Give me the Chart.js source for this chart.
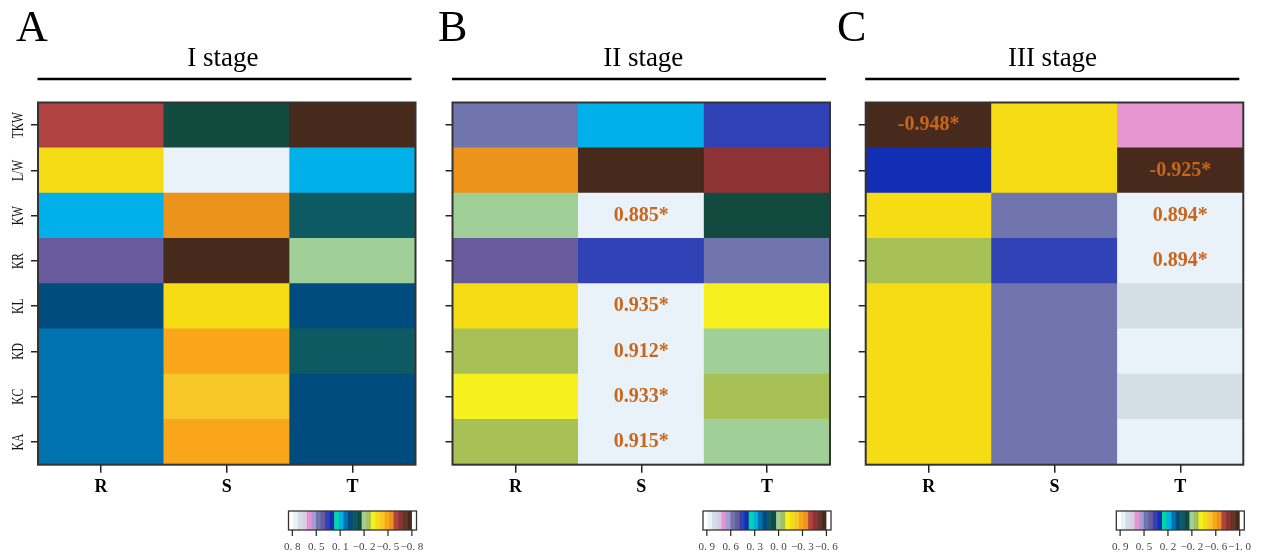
<!DOCTYPE html>
<html>
<head>
<meta charset="utf-8">
<title>Correlation heatmaps by stage</title>
<script src="https://cdn.jsdelivr.net/npm/chart.js@4.4.1/dist/chart.umd.min.js"></script>
<style>
  body { margin:0; background:#fff; width:1261px; height:552px; overflow:hidden; position:relative; }
  canvas { position:absolute; top:0; }
</style>
</head>
<body>
<canvas id="cA" width="440" height="552" style="left:0px"></canvas>
<canvas id="cB" width="420" height="552" style="left:425px"></canvas>
<canvas id="cC" width="431" height="552" style="left:830px"></canvas>
<script>
// rows top -> bottom, columns R / S / T
var traits = ['TKW', 'L/W', 'KW', 'KR', 'KL', 'KD', 'KC', 'KA'];
var parts = ['R', 'S', 'T'];

// I stage
var stage1_R = [-0.59, -0.34, 0.16, 0.40, 0.03, 0.09, 0.09, 0.09];
var stage1_S = [-0.09, 0.78, -0.53, -0.78, -0.34, -0.47, -0.40, -0.47];
var stage1_T = [-0.78, 0.16, -0.03, -0.16, 0.03, -0.03, 0.03, 0.03];
var stage1_sig = [];
var stage1_ticks = ['0.8', '0.5', '0.1', '−0.2', '−0.5', '−0.8'];

// II stage
var stage2_R = [0.61, -0.35, 0.01, 0.55, -0.17, -0.05, -0.11, -0.05];
var stage2_S = [0.31, -0.59, 0.885, 0.49, 0.935, 0.912, 0.933, 0.915];
var stage2_T = [0.49, -0.47, 0.07, 0.61, -0.11, 0.01, -0.05, 0.01];
var stage2_sig = [['KW','S'], ['KL','S'], ['KD','S'], ['KC','S'], ['KA','S']];
var stage2_ticks = ['0.9', '0.6', '0.3', '0.0', '−0.3', '−0.6'];

// III stage
var stage3_R = [-0.948, 0.31, -0.43, -0.28, -0.43, -0.43, -0.43, -0.43];
var stage3_S = [-0.43, -0.43, 0.54, 0.39, 0.54, 0.54, 0.54, 0.54];
var stage3_T = [0.68, -0.925, 0.894, 0.894, 0.83, 0.88, 0.83, 0.88];
var stage3_sig = [['TKW','R'], ['L/W','T'], ['KW','T'], ['KR','T']];
var stage3_ticks = ['0.9', '0.5', '0.2', '−0.2', '−0.6', '−1.0'];

// colour key, high -> low
var palette = ['#ffffff','#e9f1f9','#d3dfe4','#d9cde8','#e595cf','#a89ad6','#7175ae','#675b9e',
  '#3042b5','#122eb5','#00d6a8','#00b0e9','#0072b0','#004c7e','#0d5a62','#124a40',
  '#a0cf98','#a7c157','#f5f01e','#f5dc14','#f7c629','#f9a61a','#eb931a','#b24141',
  '#8e3334','#633728','#472a1c','#ffffff'];

function colorFor(v, hi, w) {
  var k = Math.floor((hi - v) / w);
  if (k < 0) k = 0;
  if (k > palette.length - 1) k = palette.length - 1;
  return palette[k];
}

var decor = {
  id: 'decor',
  afterDraw: function(chart) {
    var o = chart.options.plugins.decor;
    var ctx = chart.ctx, a = chart.chartArea;
    var xs = chart.scales.x, ys = chart.scales.y;
    ctx.save();
    // panel letter
    ctx.fillStyle = '#000';
    ctx.font = '44px "Liberation Serif"';
    ctx.textAlign = 'left'; ctx.textBaseline = 'alphabetic';
    ctx.fillText(o.letter, o.letterX, 41);
    // title + rule
    ctx.font = '27px "Liberation Serif"';
    ctx.textAlign = 'center';
    ctx.fillText(o.title, (a.left + a.right) / 2 + o.titleDx, 66);
    ctx.strokeStyle = '#000'; ctx.lineWidth = 2.5;
    ctx.beginPath(); ctx.moveTo(a.left - 0.5, 79); ctx.lineTo(a.right - 4, 79); ctx.stroke();
    // frame
    ctx.strokeStyle = '#333'; ctx.lineWidth = 2;
    ctx.strokeRect(a.left, a.top, a.right - a.left, a.bottom - a.top);
    // row names (rotated)
    if (o.showNames) {
      ctx.fillStyle = '#111';
      ctx.font = '17px "Liberation Serif"';
      ctx.textAlign = 'center'; ctx.textBaseline = 'middle';
      traits.forEach(function(t, i) {
        var y = ys.getPixelForValue(traits.length - i - 0.5);
        ctx.save();
        ctx.translate(19, y);
        ctx.rotate(-Math.PI / 2);
        ctx.scale(0.68, 1);
        ctx.fillText(t, 0, 0);
        ctx.restore();
      });
    }
    // significant values
    ctx.fillStyle = '#c8661c';
    ctx.font = 'bold 20px "Liberation Serif"';
    ctx.textAlign = 'center'; ctx.textBaseline = 'middle';
    o.sig.forEach(function(s) {
      var r = traits.indexOf(s[0]), c = parts.indexOf(s[1]);
      var v = o.cols[c][r];
      ctx.fillText(v.toFixed(3) + '*', xs.getPixelForValue(c), ys.getPixelForValue(traits.length - r - 0.5));
    });
    // colour key
    var bw = 128, bh = 19, bx = a.right + 1 - bw, by = 511;
    var step = bw / palette.length;
    palette.forEach(function(c, i) {
      ctx.fillStyle = c;
      ctx.fillRect(bx + i * step, by, step + 0.5, bh);
    });
    ctx.strokeStyle = '#333'; ctx.lineWidth = 1.3;
    ctx.strokeRect(bx, by, bw, bh);
    ctx.fillStyle = '#444';
    ctx.font = '11px "Liberation Serif"';
    ctx.textAlign = 'center'; ctx.textBaseline = 'alphabetic';
    o.ticks.forEach(function(t, i) {
      var x = bx + bw * (0.03 + i * 0.1868);
      ctx.strokeStyle = '#222'; ctx.lineWidth = 1.2;
      ctx.beginPath(); ctx.moveTo(x, by + bh); ctx.lineTo(x, by + bh + 6); ctx.stroke();
      ctx.fillText(t.replace('.', '. '), x, 550);
    });
    ctx.restore();
  }
};

function makePanel(id, cols, sig, ticks, hi, w, o) {
  var datasets = [];
  for (var r = traits.length - 1; r >= 0; r--) {
    datasets.push({
      label: traits[r],
      data: parts.map(function() { return 1; }),
      backgroundColor: cols.map(function(col) { return colorFor(col[r], hi, w); }),
      borderWidth: 0,
      barPercentage: 1,
      categoryPercentage: 1
    });
  }
  return new Chart(document.getElementById(id), {
    type: 'bar',
    data: { labels: parts, datasets: datasets },
    plugins: [decor],
    options: {
      responsive: false,
      animation: false,
      layout: { padding: { left: o.padL, right: o.padR, top: 102.5, bottom: 57.3 } },
      plugins: {
        legend: { display: false },
        tooltip: { enabled: false },
        decor: { letter: o.letter, letterX: o.letterX, title: o.title, titleDx: o.titleDx,
                 showNames: o.showNames, sig: sig, cols: cols, ticks: ticks }
      },
      scales: {
        x: {
          stacked: true,
          grid: { offset: false, drawOnChartArea: false, drawTicks: true, tickLength: 8, color: '#222', lineWidth: 1.5 },
          border: { display: false },
          ticks: { color: '#000', padding: 4, font: { family: 'Liberation Serif', size: 18, weight: 'bold' } },
          afterFit: function(s) { s.height = 30; }
        },
        y: {
          stacked: true, min: 0, max: traits.length,
          grid: { drawOnChartArea: false, drawTicks: true, tickLength: 7, color: '#222', lineWidth: 1.5 },
          border: { display: false },
          ticks: { display: false },
          afterBuildTicks: function(s) { s.ticks = traits.map(function(t, i) { return { value: i + 0.5 }; }); },
          afterFit: function(s) { s.width = 10; }
        }
      }
    }
  });
}

makePanel('cA', [stage1_R, stage1_S, stage1_T], stage1_sig, stage1_ticks, 0.87, 0.062143,
  { padL: 28, padR: 24.5, letter: 'A', letterX: 16, title: 'I stage', titleDx: -4, showNames: true });
makePanel('cB', [stage2_R, stage2_S, stage2_T], stage2_sig, stage2_ticks, 1.0, 0.06,
  { padL: 17.5, padR: 15, letter: 'B', letterX: 13, title: 'II stage', titleDx: 2, showNames: false });
makePanel('cC', [stage3_R, stage3_S, stage3_T], stage3_sig, stage3_ticks, 1.02, 0.0745,
  { padL: 25.7, padR: 17.7, letter: 'C', letterX: 7, title: 'III stage', titleDx: -2, showNames: false });
</script>
</body>
</html>
